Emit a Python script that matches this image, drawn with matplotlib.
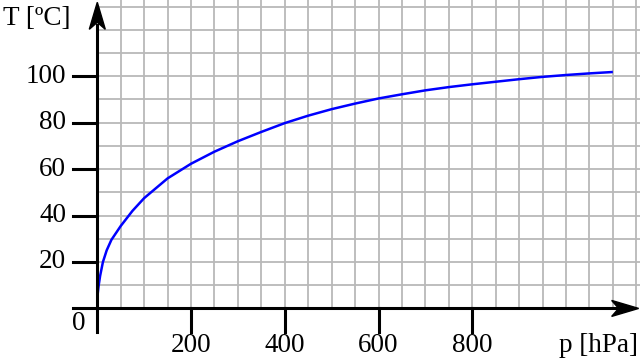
import matplotlib
matplotlib.use("Agg")
import matplotlib.pyplot as plt
from matplotlib.patches import Polygon

# Siedetemperatur von Wasser in Abhängigkeit vom Luftdruck
p_hpa = [0, 1, 3, 6, 12, 20, 30, 50, 75, 100, 150, 200, 250, 300, 350, 400,
         450, 500, 550, 600, 650, 700, 750, 800, 850, 900, 950, 1000, 1050, 1100]
t_c = [3.9, 6.5, 10, 14, 20, 25, 29.5, 35.5, 42, 47.5, 56, 62.3, 67.5, 72, 76,
       79.8, 83, 85.8, 88.2, 90.4, 92.2, 93.9, 95.3, 96.5, 97.6, 98.7, 99.7,
       100.5, 101.2, 101.8]

x_ticks = [200, 400, 600, 800]
y_ticks = [20, 40, 60, 80, 100]

plt.rcParams['font.family'] = ['Liberation Serif', 'DejaVu Serif']

fig = plt.figure(figsize=(6.4, 3.63), dpi=100)
ax = fig.add_axes([0, 0, 1, 1])
ax.set_xlim(-207.6, 1157.9)
ax.set_ylim(-23.5, 132.8)
ax.axis('off')

# Raster (alle 50 hPa und 10 °C)
grid_col = '#b9b9b9'
for x in range(50, 1151, 50):
    ax.plot([x, x], [0, 132.8], color=grid_col, lw=1.3, zorder=1)
for y in range(10, 131, 10):
    ax.plot([0, 1157.9], [y, y], color=grid_col, lw=1.3, zorder=1)

# Achsen
ax.plot([-51, 1120], [0, 0], color='black', lw=2.2, zorder=3)
ax.plot([0, 0], [-10, 122], color='black', lw=2.2, zorder=3)

# Pfeilspitzen (Pixelmaße umgerechnet)
px = 1 / 0.4687   # hPa pro Pixel
py = 1 / 2.323    # °C pro Pixel
tip_x, tip_y = 1155, 0
ax.add_patch(Polygon([(tip_x, tip_y), (tip_x - 27 * px, tip_y + 8 * py),
                      (tip_x - 20 * px, tip_y), (tip_x - 27 * px, tip_y - 8 * py)],
                     closed=True, color='black', zorder=4))
tip_x, tip_y = 0, 131.8
ax.add_patch(Polygon([(tip_x, tip_y), (tip_x + 8 * px, tip_y - 27 * py),
                      (tip_x, tip_y - 20 * py), (tip_x - 8 * px, tip_y - 27 * py)],
                     closed=True, color='black', zorder=4))

# Striche und Beschriftung
fs = 19.5
for y in y_ticks:
    ax.plot([-51, 0], [y, y], color='black', lw=2.2, zorder=3)
    ax.text(-66, y, str(y), ha='right', va='center', fontsize=fs)
for x in x_ticks:
    ax.plot([x, x], [0, -10], color='black', lw=2.2, zorder=3)
    ax.text(x, -16, str(x), ha='center', va='center', fontsize=fs)
ax.text(-39, -6.5, '0', ha='center', va='center', fontsize=fs)
ax.text(1153, -16, 'p [hPa]', ha='right', va='center', fontsize=fs)
ax.text(-202, 125, 'T [ºC]', ha='left', va='center', fontsize=fs)

# Kurve
ax.plot(p_hpa, t_c, color='#0000ff', lw=1.8, zorder=2, solid_capstyle='butt')

fig.savefig('out.png', dpi=100)
